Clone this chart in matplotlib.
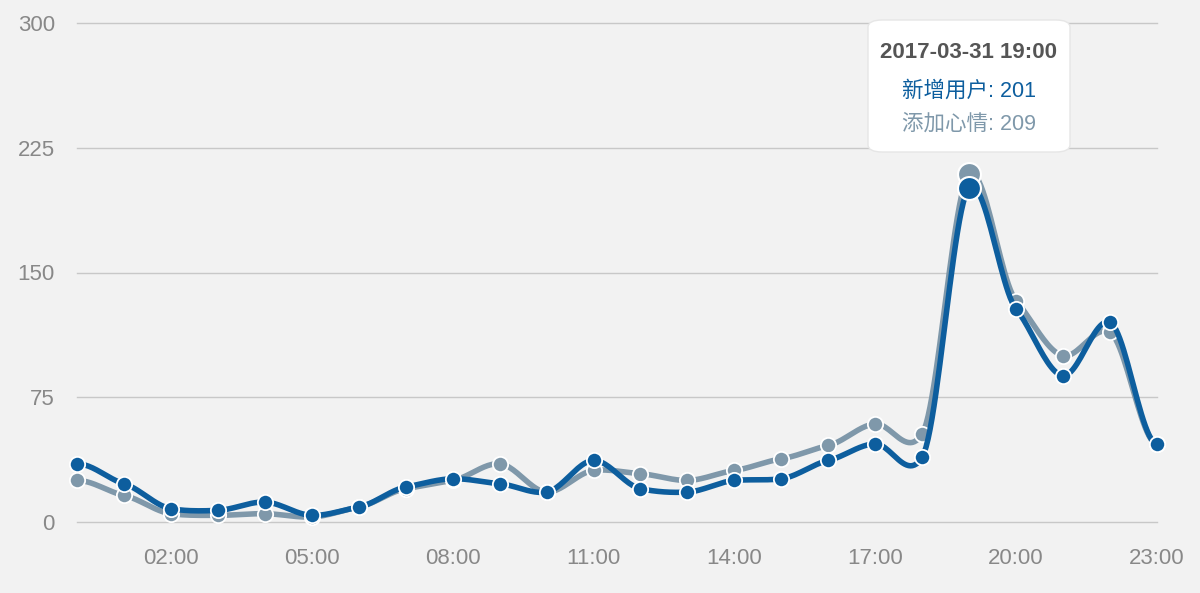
import matplotlib
matplotlib.use("Agg")
import matplotlib.pyplot as plt
from matplotlib.patches import FancyBboxPatch
import numpy as np

plt.rcParams['font.family'] = ['Liberation Sans', 'Noto Sans CJK SC', 'DejaVu Sans']

hours = list(range(24))
tick_hours = [2, 5, 8, 11, 14, 17, 20, 23]
tick_labels = ["%02d:00" % h for h in tick_hours]
users = [35, 23, 8, 7, 12, 4, 9, 21, 26, 23, 18, 37, 20, 18, 25, 26, 37, 47, 39, 201, 128, 88, 120, 47]
moods = [25, 16, 5, 4, 5, 3, 9, 20, 25, 35, 18, 31, 29, 25, 31, 38, 46, 59, 53, 209, 133, 100, 114, 47]
hl = 19

blue = "#0d5e9e"
gray = "#7f98aa"


def smooth(x, y, k=0.6, n=24):
    # cardinal spline (hermite), k scales the tangents
    x = np.asarray(x, float)
    y = np.asarray(y, float)
    m = np.zeros_like(y)
    m[1:-1] = k * (y[2:] - y[:-2]) / 2
    t = np.linspace(0, 1, n, endpoint=False)
    h00 = 2 * t ** 3 - 3 * t ** 2 + 1
    h10 = t ** 3 - 2 * t ** 2 + t
    h01 = -2 * t ** 3 + 3 * t ** 2
    h11 = t ** 3 - t ** 2
    xs, ys = [], []
    for i in range(len(y) - 1):
        ys.append(h00 * y[i] + h10 * m[i] + h01 * y[i + 1] + h11 * m[i + 1])
        xs.append(x[i] + (x[i + 1] - x[i]) * t)
    xs.append([x[-1]])
    ys.append([y[-1]])
    return np.concatenate(xs), np.concatenate(ys)


fig = plt.figure(figsize=(12, 5.93), dpi=100, facecolor="#f2f2f2")
ax = fig.add_axes([77 / 1200, 1 - 522 / 593, 1080 / 1200, 499 / 593])
ax.set_facecolor("#f2f2f2")

for vals, col, z in [(moods, gray, 3), (users, blue, 4)]:
    sx, sy = smooth(hours, vals)
    ax.plot(sx, sy, color=col, lw=4, solid_capstyle='round', zorder=z, clip_on=False)
    pts = [i for i in hours if i != hl]
    ax.plot(pts, [vals[i] for i in pts], 'o', color=col, ms=11, mec='white', mew=1.3,
            zorder=z + 0.5, clip_on=False)
    ax.plot([hl], [vals[hl]], 'o', color=col, ms=16.5, mec='white', mew=1.5,
            zorder=z + 0.5, clip_on=False)

ax.set_xlim(0, 23)
ax.set_ylim(0, 300)
ax.set_yticks([0, 75, 150, 225, 300])
ax.set_xticks(tick_hours)
ax.set_xticklabels(tick_labels)
ax.grid(axis='y', color="#c8c8c8", lw=1)
ax.grid(axis='x', visible=False)
for gl in ax.get_ygridlines():
    gl.set_clip_on(False)
ax.set_axisbelow(True)
for s in ax.spines.values():
    s.set_visible(False)
ax.tick_params(axis='both', length=0, colors="#888888", labelsize=16)
ax.tick_params(axis='y', pad=16)
ax.tick_params(axis='x', pad=19)

# tooltip
W, H = 1200, 593
box = FancyBboxPatch((868 / W, 1 - 152 / H), 202 / W, 132 / H,
                     boxstyle="round,pad=0,rounding_size=0.012", transform=fig.transFigure,
                     facecolor="white", edgecolor="#e6e6e6", lw=1, zorder=10)
fig.patches.append(box)
cx = 969 / W
fig.text(cx, 1 - 52 / H, "2017-03-31 19:00", ha='center', va='center', fontsize=16,
         fontweight='bold', color="#555555", zorder=11)
fig.text(cx, 1 - 91 / H, "新增用户: %d" % users[hl], ha='center', va='center', fontsize=15.5,
         color=blue, zorder=11)
fig.text(cx, 1 - 124 / H, "添加心情: %d" % moods[hl], ha='center', va='center', fontsize=15.5,
         color=gray, zorder=11)

fig.savefig("out.png", dpi=100, facecolor=fig.get_facecolor())
